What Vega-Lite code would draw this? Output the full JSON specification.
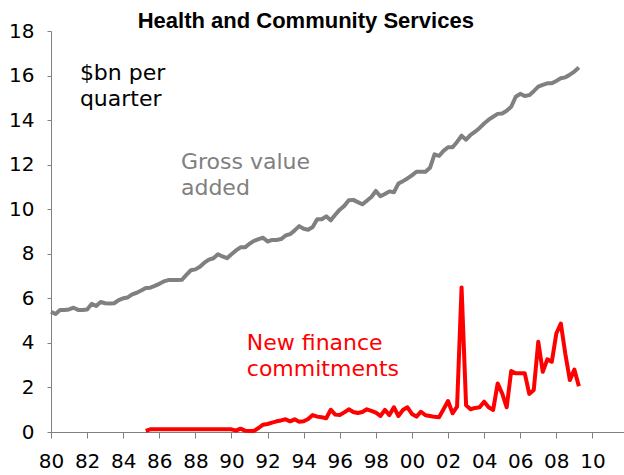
{
  "$schema": "https://vega.github.io/schema/vega-lite/v6.json",
  "autosize": "none",
  "width": 573,
  "height": 401,
  "padding": {"left": 51, "top": 31, "right": 0, "bottom": 43},
  "background": "white",
  "config": {"view": {"stroke": null}},
  "datasets": {
    "lines": [
      {"date": 1980.00, "value": 5.40, "series": "Gross value added"},
      {"date": 1980.25, "value": 5.30, "series": "Gross value added"},
      {"date": 1980.50, "value": 5.48, "series": "Gross value added"},
      {"date": 1980.75, "value": 5.48, "series": "Gross value added"},
      {"date": 1981.00, "value": 5.50, "series": "Gross value added"},
      {"date": 1981.25, "value": 5.58, "series": "Gross value added"},
      {"date": 1981.50, "value": 5.48, "series": "Gross value added"},
      {"date": 1981.75, "value": 5.48, "series": "Gross value added"},
      {"date": 1982.00, "value": 5.50, "series": "Gross value added"},
      {"date": 1982.25, "value": 5.75, "series": "Gross value added"},
      {"date": 1982.50, "value": 5.66, "series": "Gross value added"},
      {"date": 1982.75, "value": 5.84, "series": "Gross value added"},
      {"date": 1983.00, "value": 5.78, "series": "Gross value added"},
      {"date": 1983.25, "value": 5.77, "series": "Gross value added"},
      {"date": 1983.50, "value": 5.78, "series": "Gross value added"},
      {"date": 1983.75, "value": 5.92, "series": "Gross value added"},
      {"date": 1984.00, "value": 6.00, "series": "Gross value added"},
      {"date": 1984.25, "value": 6.04, "series": "Gross value added"},
      {"date": 1984.50, "value": 6.18, "series": "Gross value added"},
      {"date": 1984.75, "value": 6.25, "series": "Gross value added"},
      {"date": 1985.00, "value": 6.35, "series": "Gross value added"},
      {"date": 1985.25, "value": 6.46, "series": "Gross value added"},
      {"date": 1985.50, "value": 6.48, "series": "Gross value added"},
      {"date": 1985.75, "value": 6.56, "series": "Gross value added"},
      {"date": 1986.00, "value": 6.65, "series": "Gross value added"},
      {"date": 1986.25, "value": 6.76, "series": "Gross value added"},
      {"date": 1986.50, "value": 6.82, "series": "Gross value added"},
      {"date": 1986.75, "value": 6.82, "series": "Gross value added"},
      {"date": 1987.00, "value": 6.82, "series": "Gross value added"},
      {"date": 1987.25, "value": 6.83, "series": "Gross value added"},
      {"date": 1987.50, "value": 7.05, "series": "Gross value added"},
      {"date": 1987.75, "value": 7.26, "series": "Gross value added"},
      {"date": 1988.00, "value": 7.30, "series": "Gross value added"},
      {"date": 1988.25, "value": 7.42, "series": "Gross value added"},
      {"date": 1988.50, "value": 7.60, "series": "Gross value added"},
      {"date": 1988.75, "value": 7.74, "series": "Gross value added"},
      {"date": 1989.00, "value": 7.80, "series": "Gross value added"},
      {"date": 1989.25, "value": 7.98, "series": "Gross value added"},
      {"date": 1989.50, "value": 7.88, "series": "Gross value added"},
      {"date": 1989.75, "value": 7.80, "series": "Gross value added"},
      {"date": 1990.00, "value": 7.98, "series": "Gross value added"},
      {"date": 1990.25, "value": 8.15, "series": "Gross value added"},
      {"date": 1990.50, "value": 8.29, "series": "Gross value added"},
      {"date": 1990.75, "value": 8.29, "series": "Gross value added"},
      {"date": 1991.00, "value": 8.45, "series": "Gross value added"},
      {"date": 1991.25, "value": 8.58, "series": "Gross value added"},
      {"date": 1991.50, "value": 8.66, "series": "Gross value added"},
      {"date": 1991.75, "value": 8.72, "series": "Gross value added"},
      {"date": 1992.00, "value": 8.55, "series": "Gross value added"},
      {"date": 1992.25, "value": 8.62, "series": "Gross value added"},
      {"date": 1992.50, "value": 8.62, "series": "Gross value added"},
      {"date": 1992.75, "value": 8.66, "series": "Gross value added"},
      {"date": 1993.00, "value": 8.82, "series": "Gross value added"},
      {"date": 1993.25, "value": 8.88, "series": "Gross value added"},
      {"date": 1993.50, "value": 9.05, "series": "Gross value added"},
      {"date": 1993.75, "value": 9.24, "series": "Gross value added"},
      {"date": 1994.00, "value": 9.12, "series": "Gross value added"},
      {"date": 1994.25, "value": 9.08, "series": "Gross value added"},
      {"date": 1994.50, "value": 9.20, "series": "Gross value added"},
      {"date": 1994.75, "value": 9.55, "series": "Gross value added"},
      {"date": 1995.00, "value": 9.55, "series": "Gross value added"},
      {"date": 1995.25, "value": 9.68, "series": "Gross value added"},
      {"date": 1995.50, "value": 9.50, "series": "Gross value added"},
      {"date": 1995.75, "value": 9.75, "series": "Gross value added"},
      {"date": 1996.00, "value": 9.98, "series": "Gross value added"},
      {"date": 1996.25, "value": 10.15, "series": "Gross value added"},
      {"date": 1996.50, "value": 10.40, "series": "Gross value added"},
      {"date": 1996.75, "value": 10.42, "series": "Gross value added"},
      {"date": 1997.00, "value": 10.32, "series": "Gross value added"},
      {"date": 1997.25, "value": 10.22, "series": "Gross value added"},
      {"date": 1997.50, "value": 10.38, "series": "Gross value added"},
      {"date": 1997.75, "value": 10.55, "series": "Gross value added"},
      {"date": 1998.00, "value": 10.82, "series": "Gross value added"},
      {"date": 1998.25, "value": 10.58, "series": "Gross value added"},
      {"date": 1998.50, "value": 10.68, "series": "Gross value added"},
      {"date": 1998.75, "value": 10.80, "series": "Gross value added"},
      {"date": 1999.00, "value": 10.76, "series": "Gross value added"},
      {"date": 1999.25, "value": 11.15, "series": "Gross value added"},
      {"date": 1999.50, "value": 11.26, "series": "Gross value added"},
      {"date": 1999.75, "value": 11.38, "series": "Gross value added"},
      {"date": 2000.00, "value": 11.52, "series": "Gross value added"},
      {"date": 2000.25, "value": 11.68, "series": "Gross value added"},
      {"date": 2000.50, "value": 11.68, "series": "Gross value added"},
      {"date": 2000.75, "value": 11.68, "series": "Gross value added"},
      {"date": 2001.00, "value": 11.86, "series": "Gross value added"},
      {"date": 2001.25, "value": 12.46, "series": "Gross value added"},
      {"date": 2001.50, "value": 12.39, "series": "Gross value added"},
      {"date": 2001.75, "value": 12.62, "series": "Gross value added"},
      {"date": 2002.00, "value": 12.78, "series": "Gross value added"},
      {"date": 2002.25, "value": 12.78, "series": "Gross value added"},
      {"date": 2002.50, "value": 13.02, "series": "Gross value added"},
      {"date": 2002.75, "value": 13.30, "series": "Gross value added"},
      {"date": 2003.00, "value": 13.12, "series": "Gross value added"},
      {"date": 2003.25, "value": 13.34, "series": "Gross value added"},
      {"date": 2003.50, "value": 13.48, "series": "Gross value added"},
      {"date": 2003.75, "value": 13.65, "series": "Gross value added"},
      {"date": 2004.00, "value": 13.85, "series": "Gross value added"},
      {"date": 2004.25, "value": 14.02, "series": "Gross value added"},
      {"date": 2004.50, "value": 14.15, "series": "Gross value added"},
      {"date": 2004.75, "value": 14.28, "series": "Gross value added"},
      {"date": 2005.00, "value": 14.30, "series": "Gross value added"},
      {"date": 2005.25, "value": 14.42, "series": "Gross value added"},
      {"date": 2005.50, "value": 14.60, "series": "Gross value added"},
      {"date": 2005.75, "value": 15.05, "series": "Gross value added"},
      {"date": 2006.00, "value": 15.18, "series": "Gross value added"},
      {"date": 2006.25, "value": 15.08, "series": "Gross value added"},
      {"date": 2006.50, "value": 15.12, "series": "Gross value added"},
      {"date": 2006.75, "value": 15.30, "series": "Gross value added"},
      {"date": 2007.00, "value": 15.50, "series": "Gross value added"},
      {"date": 2007.25, "value": 15.58, "series": "Gross value added"},
      {"date": 2007.50, "value": 15.65, "series": "Gross value added"},
      {"date": 2007.75, "value": 15.65, "series": "Gross value added"},
      {"date": 2008.00, "value": 15.76, "series": "Gross value added"},
      {"date": 2008.25, "value": 15.88, "series": "Gross value added"},
      {"date": 2008.50, "value": 15.92, "series": "Gross value added"},
      {"date": 2008.75, "value": 16.04, "series": "Gross value added"},
      {"date": 2009.00, "value": 16.18, "series": "Gross value added"},
      {"date": 2009.25, "value": 16.36, "series": "Gross value added"},
      {"date": 1985.25, "value": 0.05, "series": "New finance commitments"},
      {"date": 1985.50, "value": 0.12, "series": "New finance commitments"},
      {"date": 1985.75, "value": 0.12, "series": "New finance commitments"},
      {"date": 1986.00, "value": 0.12, "series": "New finance commitments"},
      {"date": 1986.25, "value": 0.12, "series": "New finance commitments"},
      {"date": 1986.50, "value": 0.12, "series": "New finance commitments"},
      {"date": 1986.75, "value": 0.12, "series": "New finance commitments"},
      {"date": 1987.00, "value": 0.12, "series": "New finance commitments"},
      {"date": 1987.25, "value": 0.12, "series": "New finance commitments"},
      {"date": 1987.50, "value": 0.12, "series": "New finance commitments"},
      {"date": 1987.75, "value": 0.12, "series": "New finance commitments"},
      {"date": 1988.00, "value": 0.12, "series": "New finance commitments"},
      {"date": 1988.25, "value": 0.12, "series": "New finance commitments"},
      {"date": 1988.50, "value": 0.12, "series": "New finance commitments"},
      {"date": 1988.75, "value": 0.12, "series": "New finance commitments"},
      {"date": 1989.00, "value": 0.12, "series": "New finance commitments"},
      {"date": 1989.25, "value": 0.12, "series": "New finance commitments"},
      {"date": 1989.50, "value": 0.12, "series": "New finance commitments"},
      {"date": 1989.75, "value": 0.12, "series": "New finance commitments"},
      {"date": 1990.00, "value": 0.12, "series": "New finance commitments"},
      {"date": 1990.25, "value": 0.06, "series": "New finance commitments"},
      {"date": 1990.50, "value": 0.15, "series": "New finance commitments"},
      {"date": 1990.75, "value": 0.06, "series": "New finance commitments"},
      {"date": 1991.00, "value": 0.05, "series": "New finance commitments"},
      {"date": 1991.25, "value": 0.05, "series": "New finance commitments"},
      {"date": 1991.50, "value": 0.18, "series": "New finance commitments"},
      {"date": 1991.75, "value": 0.33, "series": "New finance commitments"},
      {"date": 1992.00, "value": 0.36, "series": "New finance commitments"},
      {"date": 1992.25, "value": 0.42, "series": "New finance commitments"},
      {"date": 1992.50, "value": 0.48, "series": "New finance commitments"},
      {"date": 1992.75, "value": 0.52, "series": "New finance commitments"},
      {"date": 1993.00, "value": 0.57, "series": "New finance commitments"},
      {"date": 1993.25, "value": 0.48, "series": "New finance commitments"},
      {"date": 1993.50, "value": 0.57, "series": "New finance commitments"},
      {"date": 1993.75, "value": 0.46, "series": "New finance commitments"},
      {"date": 1994.00, "value": 0.48, "series": "New finance commitments"},
      {"date": 1994.25, "value": 0.58, "series": "New finance commitments"},
      {"date": 1994.50, "value": 0.76, "series": "New finance commitments"},
      {"date": 1994.75, "value": 0.69, "series": "New finance commitments"},
      {"date": 1995.00, "value": 0.66, "series": "New finance commitments"},
      {"date": 1995.25, "value": 0.62, "series": "New finance commitments"},
      {"date": 1995.50, "value": 1.00, "series": "New finance commitments"},
      {"date": 1995.75, "value": 0.78, "series": "New finance commitments"},
      {"date": 1996.00, "value": 0.76, "series": "New finance commitments"},
      {"date": 1996.25, "value": 0.88, "series": "New finance commitments"},
      {"date": 1996.50, "value": 1.02, "series": "New finance commitments"},
      {"date": 1996.75, "value": 0.90, "series": "New finance commitments"},
      {"date": 1997.00, "value": 0.85, "series": "New finance commitments"},
      {"date": 1997.25, "value": 0.90, "series": "New finance commitments"},
      {"date": 1997.50, "value": 1.02, "series": "New finance commitments"},
      {"date": 1997.75, "value": 0.95, "series": "New finance commitments"},
      {"date": 1998.00, "value": 0.87, "series": "New finance commitments"},
      {"date": 1998.25, "value": 0.72, "series": "New finance commitments"},
      {"date": 1998.50, "value": 0.99, "series": "New finance commitments"},
      {"date": 1998.75, "value": 0.76, "series": "New finance commitments"},
      {"date": 1999.00, "value": 1.11, "series": "New finance commitments"},
      {"date": 1999.25, "value": 0.72, "series": "New finance commitments"},
      {"date": 1999.50, "value": 0.99, "series": "New finance commitments"},
      {"date": 1999.75, "value": 1.11, "series": "New finance commitments"},
      {"date": 2000.00, "value": 0.81, "series": "New finance commitments"},
      {"date": 2000.25, "value": 0.69, "series": "New finance commitments"},
      {"date": 2000.50, "value": 0.91, "series": "New finance commitments"},
      {"date": 2000.75, "value": 0.75, "series": "New finance commitments"},
      {"date": 2001.00, "value": 0.72, "series": "New finance commitments"},
      {"date": 2001.25, "value": 0.68, "series": "New finance commitments"},
      {"date": 2001.50, "value": 0.66, "series": "New finance commitments"},
      {"date": 2001.75, "value": 1.02, "series": "New finance commitments"},
      {"date": 2002.00, "value": 1.39, "series": "New finance commitments"},
      {"date": 2002.25, "value": 0.84, "series": "New finance commitments"},
      {"date": 2002.50, "value": 1.14, "series": "New finance commitments"},
      {"date": 2002.75, "value": 6.49, "series": "New finance commitments"},
      {"date": 2003.00, "value": 1.20, "series": "New finance commitments"},
      {"date": 2003.25, "value": 1.02, "series": "New finance commitments"},
      {"date": 2003.50, "value": 1.08, "series": "New finance commitments"},
      {"date": 2003.75, "value": 1.11, "series": "New finance commitments"},
      {"date": 2004.00, "value": 1.36, "series": "New finance commitments"},
      {"date": 2004.25, "value": 1.11, "series": "New finance commitments"},
      {"date": 2004.50, "value": 0.99, "series": "New finance commitments"},
      {"date": 2004.75, "value": 2.18, "series": "New finance commitments"},
      {"date": 2005.00, "value": 1.73, "series": "New finance commitments"},
      {"date": 2005.25, "value": 1.11, "series": "New finance commitments"},
      {"date": 2005.50, "value": 2.74, "series": "New finance commitments"},
      {"date": 2005.75, "value": 2.64, "series": "New finance commitments"},
      {"date": 2006.00, "value": 2.64, "series": "New finance commitments"},
      {"date": 2006.25, "value": 2.64, "series": "New finance commitments"},
      {"date": 2006.50, "value": 1.71, "series": "New finance commitments"},
      {"date": 2006.75, "value": 1.89, "series": "New finance commitments"},
      {"date": 2007.00, "value": 4.05, "series": "New finance commitments"},
      {"date": 2007.25, "value": 2.70, "series": "New finance commitments"},
      {"date": 2007.50, "value": 3.26, "series": "New finance commitments"},
      {"date": 2007.75, "value": 3.15, "series": "New finance commitments"},
      {"date": 2008.00, "value": 4.42, "series": "New finance commitments"},
      {"date": 2008.25, "value": 4.87, "series": "New finance commitments"},
      {"date": 2008.50, "value": 3.50, "series": "New finance commitments"},
      {"date": 2008.75, "value": 2.33, "series": "New finance commitments"},
      {"date": 2009.00, "value": 2.80, "series": "New finance commitments"},
      {"date": 2009.25, "value": 2.05, "series": "New finance commitments"}
    ],
    "notes": [
      {"date": 1981.6, "value": 15.8, "label": "$bn per\nquarter", "series": "unit"},
      {"date": 1987.2, "value": 11.8, "label": "Gross value\nadded", "series": "Gross value added"},
      {"date": 1990.85, "value": 3.68, "label": "New finance\ncommitments", "series": "New finance commitments"}
    ],
    "heading": [
      {"date": 1994.12, "value": 18.15, "label": "Health and Community Services", "series": "unit"}
    ]
  },
  "encoding": {
    "x": {
      "field": "date",
      "type": "quantitative",
      "scale": {"domain": [1980, 2011.75], "nice": false, "zero": false},
      "axis": {
        "title": null,
        "values": [1980, 1982, 1984, 1986, 1988, 1990, 1992, 1994, 1996, 1998, 2000, 2002, 2004, 2006, 2008, 2010],
        "labelExpr": "substring(toString(datum.value), 2, 4)",
        "grid": false,
        "domainColor": "#808080",
        "tickColor": "#808080",
        "tickSize": 6,
        "labelFont": "DejaVu Sans",
        "labelFontSize": 20,
        "labelColor": "#000000",
        "labelPadding": 13,
        "labelOverlap": false,
        "labelFlush": false
      }
    },
    "y": {
      "field": "value",
      "type": "quantitative",
      "scale": {"domain": [0, 18], "nice": false},
      "axis": {
        "title": null,
        "values": [0, 2, 4, 6, 8, 10, 12, 14, 16, 18],
        "grid": false,
        "domainColor": "#808080",
        "tickColor": "#808080",
        "tickSize": 4,
        "labelFont": "DejaVu Sans",
        "labelFontSize": 20,
        "labelColor": "#000000",
        "labelPadding": 13,
        "labelOverlap": false,
        "labelFlush": false
      }
    },
    "color": {
      "field": "series",
      "type": "nominal",
      "scale": {
        "domain": ["Gross value added", "New finance commitments", "unit"],
        "range": ["#808080", "#FF0000", "#000000"]
      },
      "legend": null
    }
  },
  "layer": [
    {
      "data": {"name": "lines"},
      "mark": {"type": "line", "strokeWidth": 4, "strokeJoin": "round"}
    },
    {
      "data": {"name": "notes"},
      "mark": {
        "type": "text",
        "align": "left",
        "baseline": "alphabetic",
        "font": "DejaVu Sans",
        "fontSize": 22,
        "lineBreak": "\n",
        "lineHeight": 26
      },
      "encoding": {"text": {"field": "label"}}
    },
    {
      "data": {"name": "heading"},
      "mark": {
        "type": "text",
        "align": "center",
        "baseline": "alphabetic",
        "font": "Liberation Sans",
        "fontSize": 22,
        "fontWeight": "bold"
      },
      "encoding": {"text": {"field": "label"}}
    }
  ]
}
